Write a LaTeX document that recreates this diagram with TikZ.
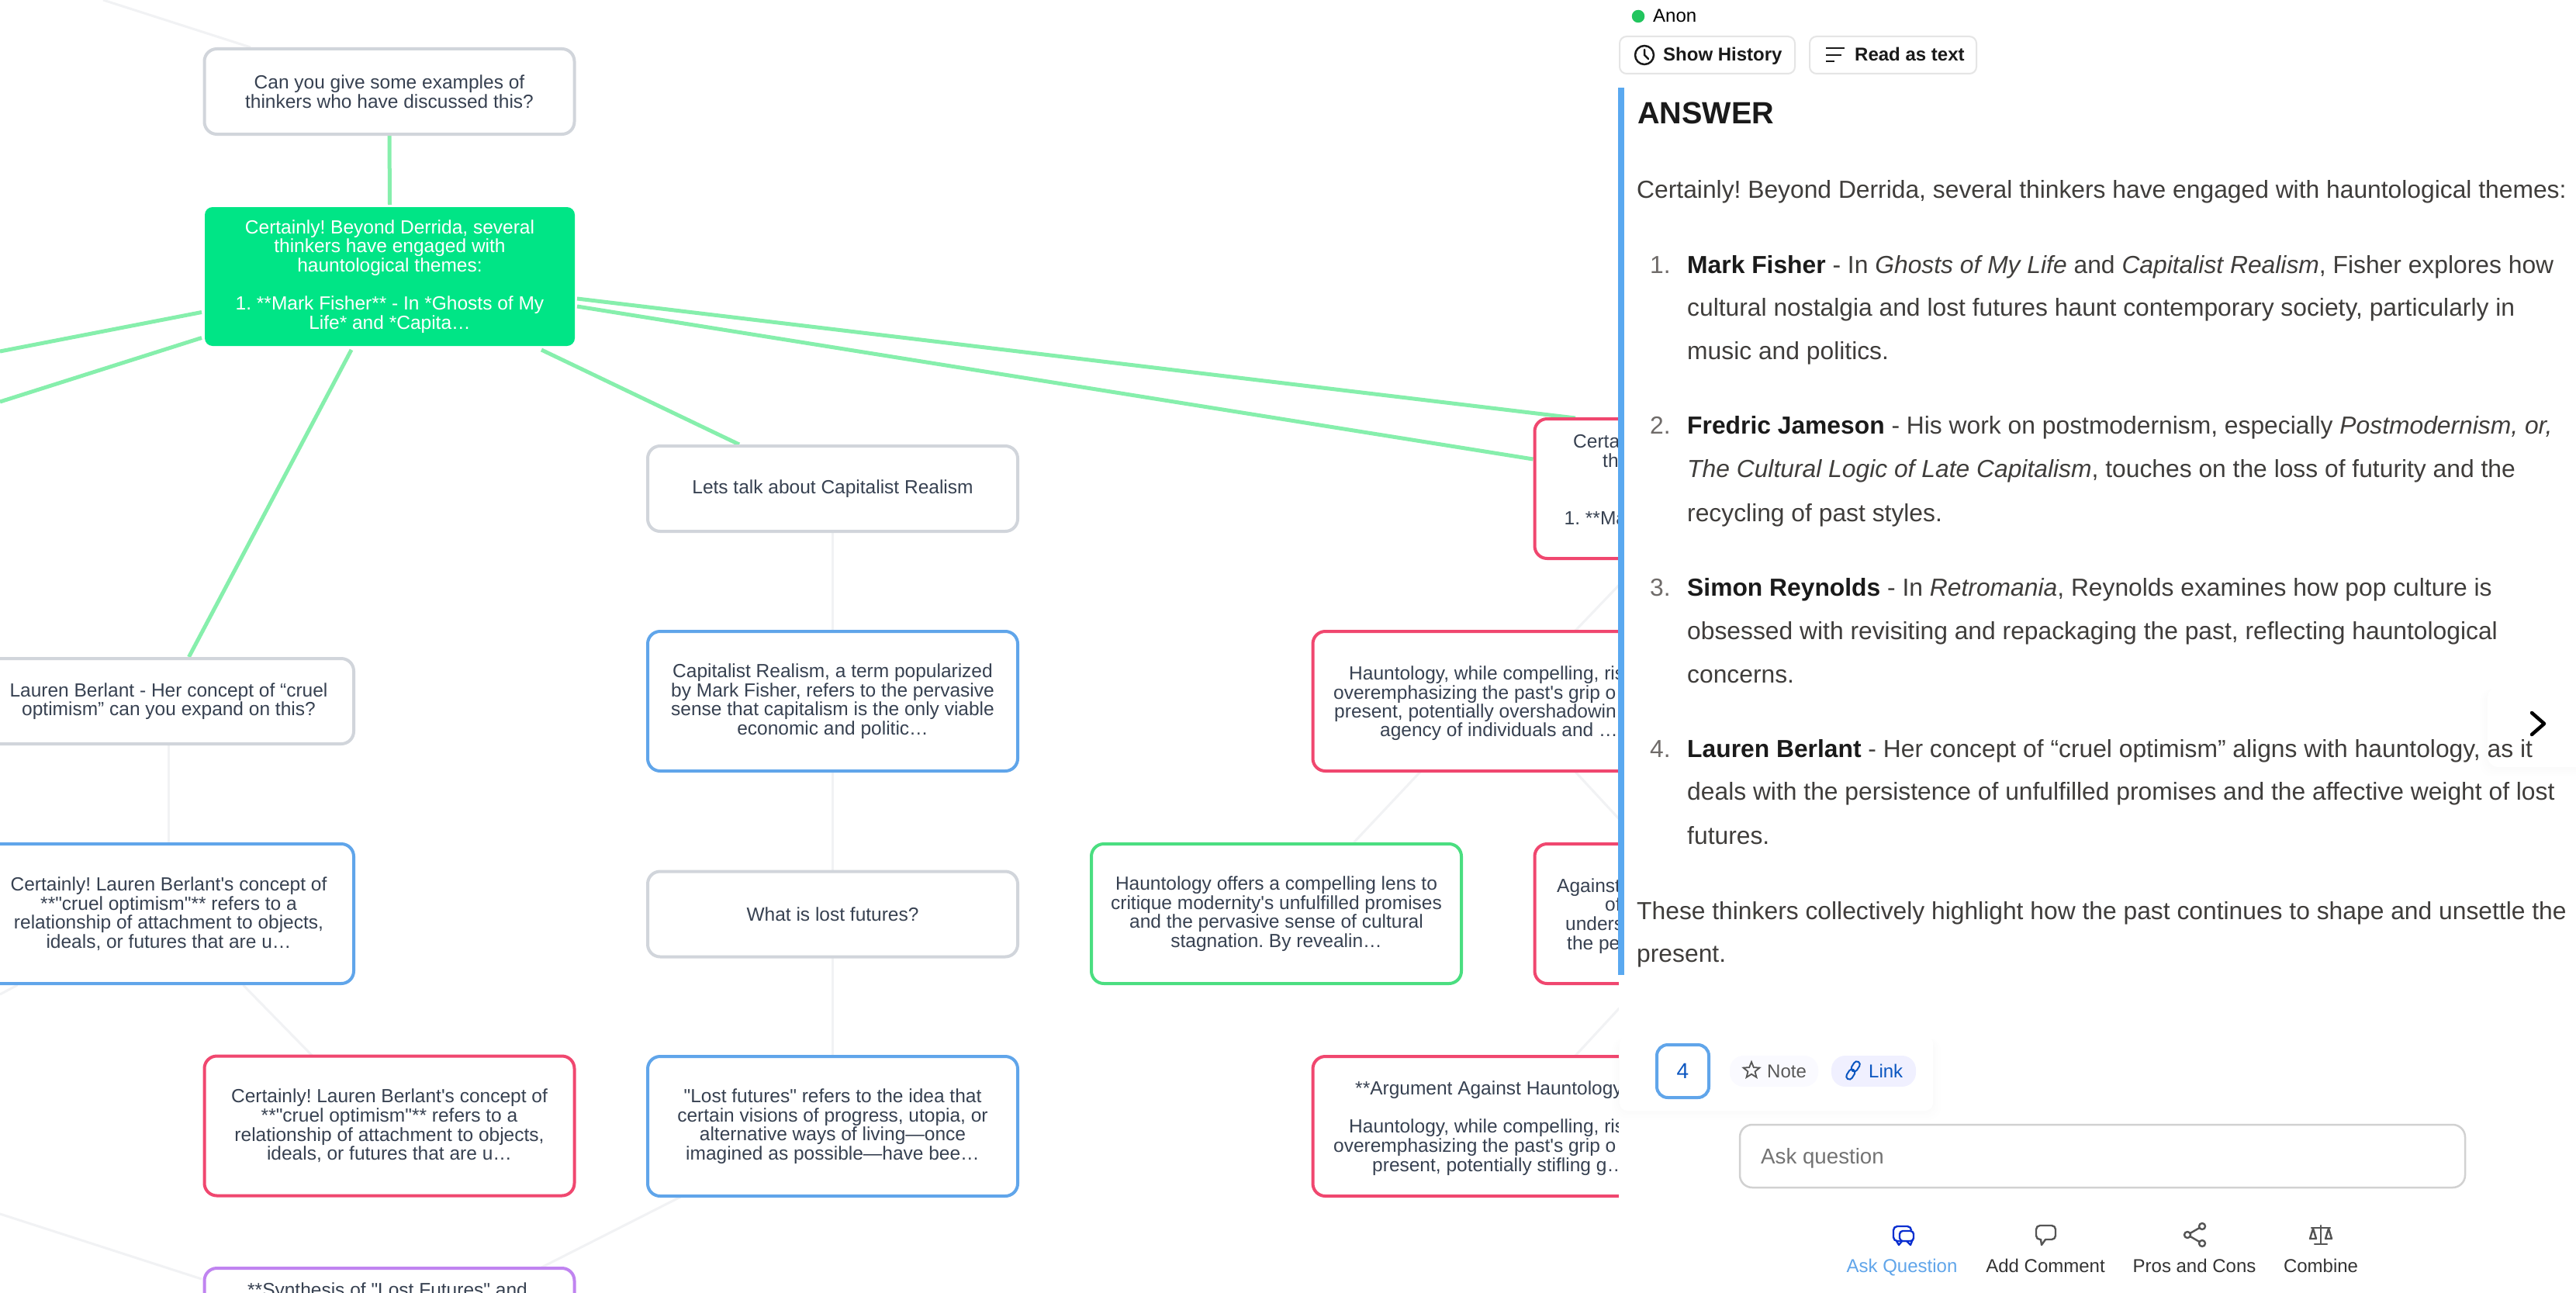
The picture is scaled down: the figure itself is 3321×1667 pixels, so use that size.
\documentclass[tikz,border=0pt]{standalone}
\usepackage{fontspec}
\setmainfont[Ligatures=TeXOff]{Liberation Sans}
\frenchspacing
\usetikzlibrary{backgrounds,shapes.geometric,calc}
\definecolor{cgreen}{HTML}{86EFAC}
\definecolor{cfaint}{HTML}{F1F2F4}
\definecolor{cgray}{HTML}{D1D5DB}
\definecolor{cred}{HTML}{F0476F}
\definecolor{cblue}{HTML}{60A5EA}
\definecolor{cgr}{HTML}{4ADE80}
\definecolor{cdot}{HTML}{22C55E}
\definecolor{cpur}{HTML}{C084F0}
\definecolor{cfill}{HTML}{00E586}
\definecolor{ctxt}{HTML}{374151}
\definecolor{cbody}{HTML}{3F3D3B}
\definecolor{cbold}{HTML}{1A1A1A}
\definecolor{cnum}{HTML}{6F6B69}
\definecolor{cbar}{HTML}{5AA9F0}
\definecolor{clink}{HTML}{0B56C0}
\definecolor{cicon}{HTML}{555555}
\definecolor{cask}{HTML}{0A2FD0}
\tikzset{
  card/.style={draw,line width=4pt,rounded corners=16pt,fill=white,outer sep=0pt,inner sep=0pt,
    minimum width=477pt,align=center,text=ctxt,
    font=\fontsize{24.5pt}{24.6pt}\selectfont},
  low/.style={minimum height=110pt},
  tall/.style={minimum height=180pt},
  qbox/.style={card,low,draw=cgray},
  bluebox/.style={card,tall,draw=cblue},
  redbox/.style={card,tall,draw=cred},
  cutline/.style={anchor=base west,inner sep=0pt,text=ctxt,font=\fontsize{24.5pt}{24.6pt}\selectfont},
  edgeg/.style={draw=cgreen,line width=5pt},
  edgef/.style={draw=cfaint,line width=3pt},
  ln/.style={anchor=base west,inner sep=0pt,text=cbody,font=\fontsize{31.8pt}{36pt}\selectfont},
  num/.style={ln,text=cnum},
  ui/.style={inner sep=0pt,font=\fontsize{24pt}{26pt}\selectfont},
  btn/.style={draw=black!10,line width=2pt,rounded corners=9pt,fill=white},
  tab/.style={ui,anchor=base,text=black!80},
  ic/.style={draw=cicon,line width=2.4pt,line join=round,line cap=round}
}
\newcommand{\softshadow}[5]{%
  \foreach \s in {10,7,4,2}{\fill[black,opacity=0.004,rounded corners=16pt] (#1-\s,#2+3) rectangle (#3+\s,#4+\s+2);}
  \fill[white,rounded corners=#5pt] (#1,#2) rectangle (#3,#4);}
\begin{document}
\begin{tikzpicture}[x=1pt,y=-1pt]
\useasboundingbox (0,0) rectangle (3321,1667);
% nodes of the map
\node[qbox] (q1) at (502,118) {Can you give some examples of\\thinkers who have discussed this?};
\node[card,draw=none,fill=cfill,text=white,minimum width=477pt,minimum height=179pt,rounded corners=10pt] (g) at (502.5,356.5)
  {Certainly! Beyond Derrida, several\\thinkers have engaged with\\hauntological themes:\\~\\1. **Mark Fisher** - In *Ghosts of My\\Life* and *Capita…};
\node[qbox] (lq) at (217.5,904) {Lauren Berlant - Her concept of “cruel\\optimism” can you expand on this?};
\node[bluebox] (lb) at (217.5,1178) {Certainly! Lauren Berlant's concept of\\**"cruel optimism"** refers to a\\relationship of attachment to objects,\\ideals, or futures that are u…};
\node[redbox] (lr) at (502,1451.5) {Certainly! Lauren Berlant's concept of\\**"cruel optimism"** refers to a\\relationship of attachment to objects,\\ideals, or futures that are u…};
\node[card,draw=cpur,minimum height=180pt] (pu) at (502,1725) {};
\node[qbox] (cq) at (1073.5,630) {Lets talk about Capitalist Realism};
\node[bluebox] (cb) at (1073.5,904) {Capitalist Realism, a term popularized\\by Mark Fisher, refers to the pervasive\\sense that capitalism is the only viable\\economic and politic…};
\node[qbox] (wq) at (1073.5,1178.5) {What is lost futures?};
\node[bluebox] (wb) at (1073.5,1452) {"Lost futures" refers to the idea that\\certain visions of progress, utopia, or\\alternative ways of living—once\\imagined as possible—have bee…};
\node[redbox] (cr) at (2217,630) {};
\node[redbox] (hr) at (1931,904) {};
\node[card,tall,draw=cgr] (gb) at (1645.5,1178) {Hauntology offers a compelling lens to\\critique modernity's unfulfilled promises\\and the pervasive sense of cultural\\stagnation. By revealin…};
\node[redbox] (ar) at (2217,1178) {};
\node[redbox] (dr) at (1931,1452) {};
% text that the panel cuts off
\node[cutline] (t1) at (2028,577.5) {Certa};
\node[cutline] (t2) at (2066,602) {th};
\node[cutline] (t3) at (2016.5,676) {1. **Ma};
\node[cutline] (t4) at (1739,876) {Hauntology, while compelling, ris};
\node[cutline] (t5) at (1719,901) {overemphasizing the past's grip o};
\node[cutline] (t6) at (1720,925) {present, potentially overshadowin};
\node[cutline] (t7) at (1779,949) {agency of individuals and …};
\node[cutline] (t8) at (2007,1150) {Against};
\node[cutline] (t9) at (2069,1174.5) {of};
\node[cutline] (t10) at (2018,1199) {unders};
\node[cutline] (t11) at (2020,1224) {the pe};
\node[cutline] (t12) at (1747,1411) {**Argument Against Hauntology};
\node[cutline] (t13) at (1739,1460) {Hauntology, while compelling, ris};
\node[cutline] (t14) at (1719,1485) {overemphasizing the past's grip o};
\node[cutline] (t15) at (1769,1510) {present, potentially stifling g…};
\node[cutline] (t16) at (319,1671) {**Synthesis of "Lost Futures" and};
% free ends
\coordinate (f0) at (133,0);
\coordinate (f1) at (0,453);
\coordinate (f2) at (0,518);
\coordinate (f3) at (0,1282);
\coordinate (f4) at (0,1565);
\begin{pgfonlayer}{background}
\fill[white] (0,0) rectangle (3321,1667);
\draw[edgeg] (q1.south) -- ([yshift=3pt]g.north);
\draw[edgeg] ([shift={(-4,46)}]g.west) -- (f1);
\draw[edgeg] ([shift={(-4,79)}]g.west) -- (f2);
\draw[edgeg] ([shift={(-49.5,5)}]g.south) -- ([shift={(26,-2)}]lq.north);
\draw[edgeg] ([shift={(195.5,5)}]g.south) -- ([shift={(-120.5,-2)}]cq.north);
\draw[edgeg] ([shift={(3,28.5)}]g.east) -- ([shift={(-186,-1)}]cr.north);
\draw[edgeg] ([shift={(3,38.5)}]g.east) -- ([shift={(-2,-38)}]cr.west);
\draw[edgef] (f0) -- ([shift={(-179,-2)}]q1.north);
\draw[edgef] (lq.south) -- (lb.north);
\draw[edgef] ([shift={(96,2)}]lb.south) -- ([shift={(-99,0)}]lr.north);
\draw[edgef] (f3) -- ([shift={(-195,2)}]lb.south);
\draw[edgef] (f4) -- ([shift={(-242,14)}]pu.north);
\draw[edgef] ([shift={(-196,1)}]wb.south) -- ([shift={(196,-1)}]pu.north);
\draw[edgef] (cq.south) -- (cb.north);
\draw[edgef] (cb.south) -- (wq.north);
\draw[edgef] (wq.south) -- (wb.north);
\draw[edgef] ([shift={(-97,0)}]cr.south) -- ([shift={(100,-1)}]hr.north);
\draw[edgef] ([shift={(-99,0)}]hr.south) -- ([shift={(100,-2)}]gb.north);
\draw[edgef] ([shift={(99,0)}]hr.south) -- ([shift={(-100,0)}]ar.north);
\draw[edgef] ([shift={(-100,0)}]ar.south) -- ([shift={(100,-1)}]dr.north);
\end{pgfonlayer}
% panel
\fill[white] (2087,0) rectangle (3321,1667);
\fill[cbar] (2086,113) rectangle (2094,1257);
\node[circle,fill=cdot,minimum size=16.5pt,inner sep=0pt] (dot) at (2112,21) {};
\node[ui,anchor=base west] (anon) at (2131,29) {Anon};
\node[btn,minimum width=226pt,minimum height=48pt] (sh) at (2201,71) {};
\node[btn,minimum width=215pt,minimum height=48pt] (rt) at (2440.5,71) {};
\draw[line width=2.5pt,draw=cbold] (2120,71) circle (12pt);
\draw[line width=2.5pt,draw=cbold,line cap=round,line join=round] (2120,64) -- (2120,71) -- (2125,76);
\draw[line width=2.5pt,draw=cbold] (2354,62) -- (2378,62) (2354,71) -- (2374,71) (2354,79) -- (2365,79);
\node[ui,anchor=base west,text=cbold,font=\fontsize{24pt}{26pt}\selectfont\bfseries] (shl) at (2144,79) {Show History};
\node[ui,anchor=base west,text=cbold,font=\fontsize{24pt}{26pt}\selectfont\bfseries] (rtl) at (2391,79) {Read as text};
\node[ln,text=cbold,font=\fontsize{39.6pt}{42pt}\selectfont\bfseries] (ans) at (2111,159) {ANSWER};
\node[ln] (p0) at (2110,255) {Certainly! Beyond Derrida, several thinkers have engaged with hauntological themes:};
\node[num] (n1) at (2127,352) {1.};
\node[ln] (l1a) at (2175,352) {\textcolor{cbold}{\bfseries Mark Fisher} - In \textit{Ghosts of My Life} and \textit{Capitalist Realism}, Fisher explores how};
\node[ln] (l1b) at (2175,407) {cultural nostalgia and lost futures haunt contemporary society, particularly in};
\node[ln] (l1c) at (2175,463) {music and politics.};
\node[num] (n2) at (2127,559) {2.};
\node[ln] (l2a) at (2175,559) {\textcolor{cbold}{\bfseries Fredric Jameson} - His work on postmodernism, especially \textit{Postmodernism, or,}};
\node[ln] (l2b) at (2175,615) {\textit{The Cultural Logic of Late Capitalism}, touches on the loss of futurity and the};
\node[ln] (l2c) at (2175,672) {recycling of past styles.};
\node[num] (n3) at (2127,768) {3.};
\node[ln] (l3a) at (2175,768) {\textcolor{cbold}{\bfseries Simon Reynolds} - In \textit{Retromania}, Reynolds examines how pop culture is};
\node[ln] (l3b) at (2175,824.5) {obsessed with revisiting and repackaging the past, reflecting hauntological};
\node[ln] (l3c) at (2175,880) {concerns.};
% next button
\softshadow{3207}{885}{3340}{989}{14}
\node[num] (n4) at (2127,976) {4.};
\node[ln] (l4a) at (2175,976) {\textcolor{cbold}{\bfseries Lauren Berlant} - Her concept of “cruel optimism” aligns with hauntology, as it};
\node[ln] (l4b) at (2175,1031) {deals with the persistence of unfulfilled promises and the affective weight of lost};
\node[ln] (l4c) at (2175,1088) {futures.};
\node[ln] (p1) at (2110,1185) {These thinkers collectively highlight how the past continues to shape and unsettle the};
\node[ln] (p2) at (2110,1240) {present.};
\draw[black,line width=4.5pt,line cap=round,line join=round] (3264,919) -- (3280,933) -- (3264,947);
% bottom block
\softshadow{2088}{1335}{2492}{1432}{10}
\node[draw=cblue,line width=4pt,rounded corners=14pt,minimum width=67pt,minimum height=68pt,fill=white,text=clink,inner sep=0pt,font=\fontsize{28pt}{30pt}\selectfont] (cnt) at (2169.5,1381) {4};
\fill[blue!2!white,rounded corners=18pt] (2230,1361) rectangle (2344,1401);
\fill[blue!6!white,rounded corners=18pt] (2361,1361) rectangle (2470,1401);
\node[star,star points=5,star point ratio=2.3,draw=cicon,line width=1.8pt,minimum size=22pt,inner sep=0pt] (st) at (2258,1380) {};
\node[ui,anchor=base west,text=black!65] (nt) at (2278,1389) {Note};
\begin{scope}[shift={(2389,1380)},rotate=58]
\draw[clink,line width=2pt,rounded corners=4pt] (-13,-4) rectangle (1,4);
\draw[clink,line width=2pt,rounded corners=4pt] (-1,-4) rectangle (13,4);
\end{scope}
\node[ui,anchor=base west,text=clink] (lk) at (2409,1389) {Link};
\node[draw=black!18,line width=2.5pt,rounded corners=16pt,fill=white,minimum width=935pt,minimum height=81pt,inner sep=0pt] (inp) at (2710.5,1490.5) {};
\node[ui,anchor=base west,text=black!55,font=\fontsize{27.7pt}{30pt}\selectfont] (inpt) at (2270,1500) {Ask question};
\node[tab,text=cblue] (a1) at (2452,1640) {Ask Question};
\node[tab] (a2) at (2637,1640) {Add Comment};
\node[tab] (a3) at (2829,1640) {Pros and Cons};
\node[tab] (a4) at (2992,1640) {Combine};
% ask icon
\draw[ic,draw=cask,rounded corners=5pt] (2441,1581) rectangle (2464,1600);
\fill[white,rounded corners=4pt] (2447,1586) rectangle (2469,1600);
\draw[ic,draw=cask,rounded corners=4pt] (2449,1587) -- (2467,1587) -- (2467,1600) -- (2449,1600) -- cycle;
\draw[ic,draw=cask] (2445,1600) -- (2448,1605) -- (2452,1600) (2458,1600) -- (2463,1605) -- (2465,1600);
% comment icon
\draw[ic,rounded corners=5pt] (2631,1598) -- (2625,1598) -- (2625,1580) -- (2650,1580) -- (2650,1598) -- (2637,1598);
\draw[ic] (2631,1598) -- (2632,1605) -- (2637,1598);
% share icon
\draw[ic] (2839,1581) circle (4pt) (2820,1592) circle (4pt) (2839,1603) circle (4pt);
\draw[ic] (2823.5,1590) -- (2835.5,1583) (2823.5,1594) -- (2835.5,1601);
% scales icon
\draw[ic] (2992,1580) -- (2992,1603) (2984,1604) -- (3000,1604) (2980,1583) -- (3004,1583);
\draw[ic] (2982,1584) -- (2978,1597) -- (2986,1597) -- cycle (3002,1584) -- (2998,1597) -- (3006,1597) -- cycle;
\end{tikzpicture}
\end{document}
